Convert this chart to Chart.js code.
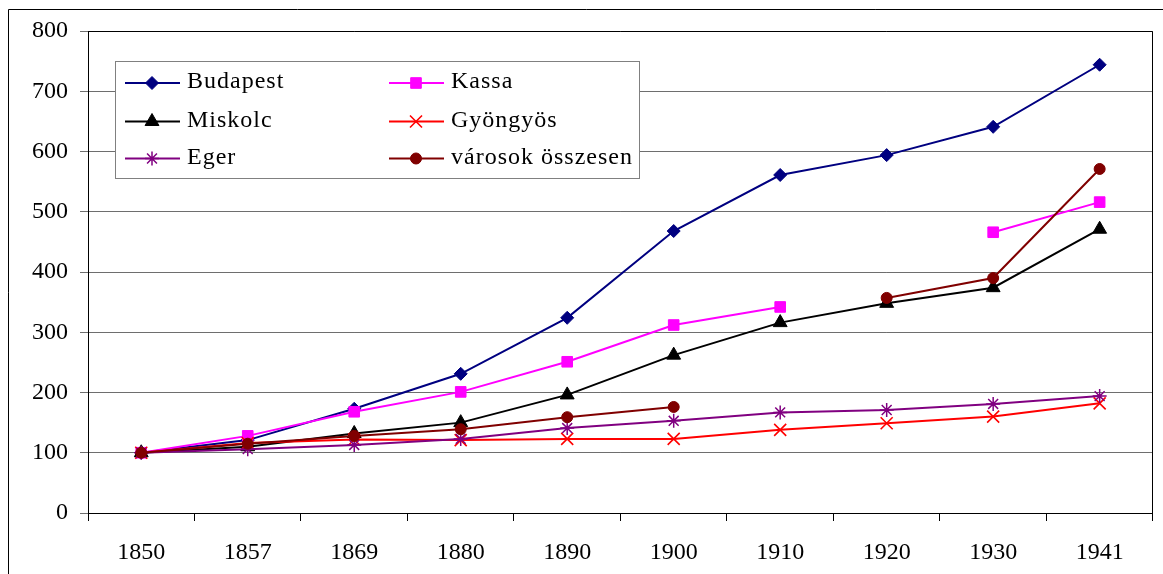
<!DOCTYPE html>
<html>
<head>
<meta charset="utf-8">
<script src="https://cdn.jsdelivr.net/npm/chart.js@4/dist/chart.umd.min.js"></script>
<style>
  body { margin: 0; background: #fff; }
  #wrap { width: 1163px; height: 574px; position: relative; }
</style>
</head>
<body>
<div id="wrap"><canvas id="cityChart" width="1163" height="574"></canvas></div>
<script>
// chart data
const years = ['1850', '1857', '1869', '1880', '1890', '1900', '1910', '1920', '1930', '1941'];
const budapest = [100, 121, 173, 231, 324, 468, 561, 594, 641, 744];
const kassa = [100, 128, 168, 201, 251, 312, 342, null, 466, 516];
const miskolc = [100, 110, 132, 150, 196, 262, 316, 348, 374, 471];
const gyongyos = [100, 116, 122, 121, 123, 123, 138, 149, 160, 182];
const eger = [100, 106, 113, 123, 141, 153, 167, 171, 181, 194];
const varosok = [100, 115, 128, 139, 159, 176, null, 357, 390, 571];
const yTicks = [0, 100, 200, 300, 400, 500, 600, 700, 800];

const series = [
  { label: 'Budapest', data: budapest, color: '#000080', style: 'rectRot', radius: 6.5, bw: 1 },
  { label: 'Miskolc', data: miskolc, color: '#000000', style: 'triangle', radius: 8, bw: 1 },
  { label: 'Eger', data: eger, color: '#800080', style: 'star', radius: 7, bw: 1.5 },
  { label: 'Kassa', data: kassa, color: '#ff00ff', style: 'rect', radius: 7.5, bw: 1 },
  { label: 'Gyöngyös', data: gyongyos, color: '#ff0000', style: 'crossRot', radius: 8.5, bw: 1.6 },
  { label: 'városok összesen', data: varosok, color: '#800000', style: 'circle', radius: 5.5, bw: 1 },
];
// excel draws the later series on top
const drawOrder = ['Budapest', 'Kassa', 'Miskolc', 'Gyöngyös', 'Eger', 'városok összesen'];

const FONT = '"Liberation Serif", "Times New Roman", serif';

// frame, plot border and the boxed legend
const framePlugin = {
  id: 'frame',
  beforeDraw(chart) {
    const ctx = chart.ctx;
    ctx.save();
    ctx.fillStyle = '#fff';
    ctx.fillRect(0, 0, chart.width, chart.height);
    ctx.strokeStyle = '#000';
    ctx.lineWidth = 1;
    ctx.beginPath();
    ctx.moveTo(8.5, chart.height + 2);
    ctx.lineTo(8.5, 9.5);
    ctx.lineTo(chart.width + 2, 9.5);
    ctx.stroke();
    ctx.restore();
  },
  afterDatasetsDraw(chart) {
    const ctx = chart.ctx;
    const a = chart.chartArea;
    ctx.save();
    ctx.strokeStyle = '#000';
    ctx.lineWidth = 1;
    ctx.beginPath();
    ctx.moveTo(Math.round(a.left) + 0.5, Math.round(a.top) + 0.5);
    ctx.lineTo(Math.round(a.right) - 0.5, Math.round(a.top) + 0.5);
    ctx.lineTo(Math.round(a.right) - 0.5, Math.round(a.bottom));
    ctx.stroke();

    // legend
    const box = { x: 115.5, y: 61.5, w: 524, h: 117 };
    ctx.fillStyle = '#fff';
    ctx.fillRect(box.x, box.y, box.w, box.h);
    ctx.strokeStyle = '#808080';
    ctx.strokeRect(box.x, box.y, box.w, box.h);

    const cols = [125, 389];
    const rows = [83, 121.5, 158.5];
    ctx.font = '24px ' + FONT;
    ctx.textBaseline = 'middle';
    ctx.textAlign = 'left';
    if ('letterSpacing' in ctx) ctx.letterSpacing = '1px';
    series.forEach((s, i) => {
      const x0 = cols[Math.floor(i / 3)];
      const y0 = rows[i % 3];
      ctx.strokeStyle = s.color;
      ctx.lineWidth = 2;
      ctx.beginPath();
      ctx.moveTo(x0, y0);
      ctx.lineTo(x0 + 55, y0);
      ctx.stroke();
      ctx.fillStyle = s.color;
      ctx.lineWidth = s.bw;
      Chart.helpers.drawPoint(ctx, { pointStyle: s.style, radius: s.radius, borderWidth: s.bw, rotation: 0 }, x0 + 27, y0);
      ctx.fillStyle = '#000';
      ctx.fillText(s.label, x0 + 62, y0 - 1);
    });
    ctx.restore();
  }
};

new Chart(document.getElementById('cityChart'), {
  type: 'line',
  data: {
    labels: years,
    datasets: series.map((s) => ({
      label: s.label,
      data: s.data,
      borderColor: s.color,
      backgroundColor: s.color,
      borderWidth: 2,
      pointStyle: s.style,
      pointRadius: s.radius,
      pointHoverRadius: s.radius,
      pointBorderWidth: s.bw,
      pointBackgroundColor: s.color,
      pointBorderColor: s.color,
      spanGaps: false,
      tension: 0,
      order: drawOrder.length - 1 - drawOrder.indexOf(s.label),
    })),
  },
  options: {
    responsive: false,
    animation: false,
    layout: { padding: { left: 0, top: 31, right: 10, bottom: 0 } },
    plugins: {
      legend: { display: false },
      tooltip: { enabled: false },
    },
    scales: {
      x: {
        offset: true,
        afterFit: (scale) => { scale.height = 61; },
        grid: {
          offset: true,
          drawOnChartArea: false,
          drawTicks: true,
          tickLength: 8,
          tickColor: '#000',
        },
        border: { color: '#000', width: 1 },
        ticks: {
          color: '#000',
          font: { family: FONT, size: 24 },
          padding: 17,
          maxRotation: 0,
        },
      },
      y: {
        min: 0,
        max: 800,
        afterFit: (scale) => { scale.width = 88; },
        afterBuildTicks: (scale) => { scale.ticks = yTicks.map((v) => ({ value: v })); },
        grid: {
          color: (c) => (c.tick && c.tick.value === 0 ? '#000' : '#6e6e6e'),
          tickColor: '#6e6e6e',
          tickLength: 8,
          lineWidth: 1,
        },
        border: { color: '#000', width: 1 },
        ticks: {
          color: '#000',
          font: { family: FONT, size: 24 },
          padding: 12,
          stepSize: 100,
        },
      },
    },
  },
  plugins: [framePlugin],
});
</script>
</body>
</html>
